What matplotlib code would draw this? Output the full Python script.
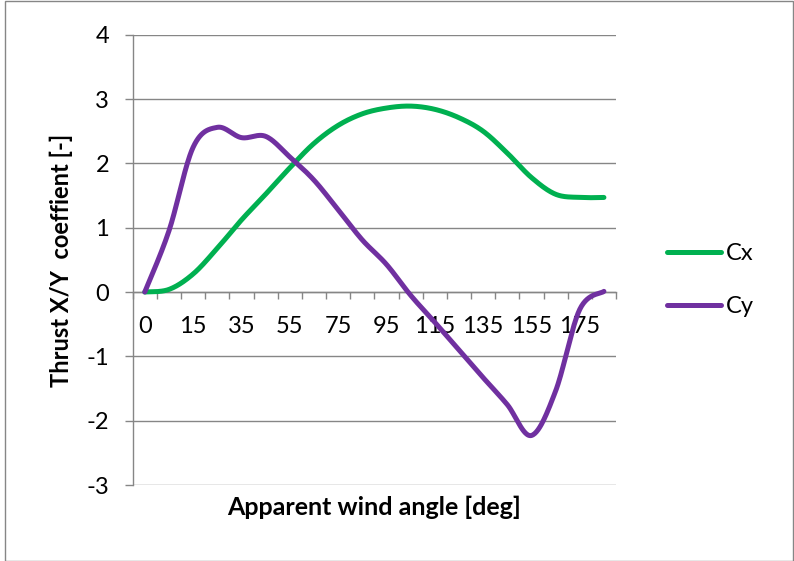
import numpy as np
import matplotlib
matplotlib.use("Agg")
import matplotlib.pyplot as plt
from matplotlib.patches import Rectangle

# category labels (x axis is a category axis, every 2nd label shown)
angles = ['0', '5', '15', '25', '35', '45', '55', '65', '75', '85',
          '95', '105', '115', '125', '135', '145', '155', '165', '175', '185']
cx = [0.0, 0.04, 0.28, 0.68, 1.12, 1.52, 1.93, 2.31, 2.59, 2.77,
      2.86, 2.89, 2.84, 2.71, 2.50, 2.16, 1.78, 1.52, 1.47, 1.47]
cy = [0.0, 0.95, 2.25, 2.56, 2.40, 2.42, 2.10, 1.74, 1.28, 0.81,
      0.43, -0.05, -0.47, -0.90, -1.33, -1.75, -2.23, -1.54, -0.27, 0.01]
y_ticks = [-3, -2, -1, 0, 1, 2, 3, 4]

GRID = '#868686'
W, H = 794, 561
FS = 17

plt.rcParams['font.family'] = ['Lato', 'DejaVu Sans']
plt.rcParams['axes.unicode_minus'] = False


def smooth(xs, ys, n=30):
    # Excel-like smoothed line: Catmull-Rom turned into cubic Bezier segments
    xs = np.asarray(xs, float)
    ys = np.asarray(ys, float)
    px = np.concatenate([[xs[0]], xs, [xs[-1]]])
    py = np.concatenate([[ys[0]], ys, [ys[-1]]])
    t = np.linspace(0, 1, n)[:, None]
    out_x, out_y = [], []
    for i in range(len(xs) - 1):
        p0 = np.array([px[i + 1], py[i + 1]])
        p3 = np.array([px[i + 2], py[i + 2]])
        c1 = p0 + (p3 - np.array([px[i], py[i]])) / 6
        c2 = p3 - (np.array([px[i + 3], py[i + 3]]) - p0) / 6
        seg = ((1 - t) ** 3) * p0 + 3 * ((1 - t) ** 2) * t * c1 + 3 * (1 - t) * t ** 2 * c2 + t ** 3 * p3
        out_x.extend(seg[:, 0])
        out_y.extend(seg[:, 1])
    return np.array(out_x), np.array(out_y)


fig = plt.figure(figsize=(W / 100, H / 100), dpi=100)
fig.patches.append(Rectangle((5 / W, 0.5 / H), 787.5 / W, 559.5 / H, transform=fig.transFigure,
                             fill=False, edgecolor=GRID, linewidth=1.0))

ax = fig.add_axes([132.7 / W, 76 / H, (616 - 132.7) / W, (485 - 34.7) / H])
idx = np.arange(len(angles))

for vals, color, name in [(cx, '#00B050', 'Cx'), (cy, '#7030A0', 'Cy')]:
    sx, sy = smooth(idx, vals)
    ax.plot(sx, sy, color=color, linewidth=3.6, solid_capstyle='round', label=name, zorder=3)

ax.set_xlim(-0.5, len(angles) - 0.5)
ax.set_ylim(y_ticks[0], y_ticks[-1])
ax.set_yticks(y_ticks)
ax.yaxis.grid(True, color=GRID, linewidth=1.0)
ax.set_axisbelow(True)

for s in ['top', 'right']:
    ax.spines[s].set_visible(False)
ax.spines['bottom'].set_position(('data', 0))
ax.spines['bottom'].set_color(GRID)
ax.spines['left'].set_color(GRID)
ax.spines['bottom'].set_linewidth(1.0)
ax.spines['left'].set_linewidth(1.0)

# ticks on category boundaries, labels on every 2nd category centre
ax.set_xticks(np.arange(-0.5, len(angles)))
ax.set_xticklabels([])
ax.set_xticks(idx[::2], minor=True)
ax.set_xticklabels(angles[::2], minor=True)
ax.tick_params(axis='x', which='major', length=5, color=GRID, width=1.0)
ax.tick_params(axis='x', which='minor', length=0, pad=17, labelsize=FS)
ax.tick_params(axis='y', length=6, color=GRID, width=1.0, pad=11, labelsize=FS)

fig.text(61 / W, 1 - 260 / H, 'Thrust X/Y  coeffient [-]', rotation=90, fontsize=FS,
         fontweight='bold', ha='center', va='center')
fig.text(374 / W, 1 - 507 / H, 'Apparent wind angle [deg]', fontsize=18,
         fontweight='bold', ha='center', va='center')

fig.legend(loc='center left', bbox_to_anchor=(667 / W, 1 - 280 / H), frameon=False,
           fontsize=FS, handlelength=2.3, handletextpad=0.2, labelspacing=1.35,
           borderpad=0, borderaxespad=0)

fig.savefig('out.png', dpi=100)
